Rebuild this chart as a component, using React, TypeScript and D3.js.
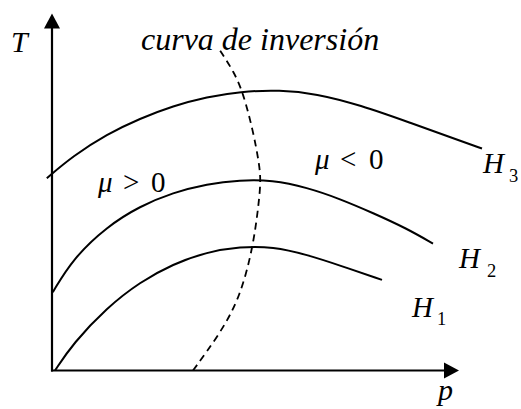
import React from "react";
import * as d3 from "d3";

// Isenthalpic curves (p, T) in arbitrary units
const h1Curve: [number, number][] = [
  [0.75, 0], [5.25, 9], [13.75, 21], [22, 29.5], [30.25, 35.5], [38.75, 39.5],
  [47, 41.3], [55.25, 41.3], [63.75, 38.6], [72, 35], [82.5, 30.2],
];
const h2Curve: [number, number][] = [
  [0.2, 26.1], [5.25, 37.3], [13.75, 48], [22, 54.8], [30.25, 59.3], [38.75, 62.2],
  [47, 63.5], [55, 63.5], [63.75, 61], [72, 57.2], [80.25, 52.5], [88.75, 47.3], [95.25, 42.3],
];
const h3Curve: [number, number][] = [
  [-1.3, 64.1], [5.25, 71.5], [13.75, 78.8], [22, 84], [30.25, 88.2], [38.75, 91.2],
  [47, 93], [57, 93.5], [66, 92.3], [77, 88.5], [89.5, 82.6], [102, 76.6], [107.5, 74],
];
// Inversion curve, from the p axis upwards
const inversionCurve: [number, number][] = [
  [35.25, 0], [42, 12.3], [47, 24.3], [50.25, 41], [51.7, 55.7], [52.2, 63.3],
  [51.8, 69], [50.25, 80], [47.75, 92.7], [45.5, 99.5], [42, 106.7],
];

const curveLabels = ["1", "2", "3"];
const axisLabels = { p: "p", T: "T" };
const inversionLabel = "curva de inversión";

const W = 521;
const H = 409;
const P_AXIS_END = 101.75;
const T_AXIS_END = 119;

const x = d3.scaleLinear().domain([0, 100]).range([52, 452]);
const y = d3.scaleLinear().domain([0, 100]).range([370.5, 70.5]);

const line = d3
  .line<[number, number]>()
  .x((d) => x(d[0]))
  .y((d) => y(d[1]))
  .curve(d3.curveBasis);

const font = { fontFamily: "Liberation Serif" };

export default function App() {
  const x0 = x(0);
  const y0 = y(0);
  const xEnd = x(P_AXIS_END);
  const yEnd = y(T_AXIS_END);
  const head = 15;
  const half = 8;

  // label anchor positions (H_n) and subscript offsets
  const hLabels = [
    { x: 412, y: 317, sx: 437, sy: 325 },
    { x: 459, y: 268, sx: 487, sy: 277 },
    { x: 483, y: 173, sx: 509, sy: 182 },
  ];

  return (
    <svg
      width={W}
      height={H}
      style={{ position: "fixed", left: 0, top: 0, background: "#fff" }}
    >
      <rect width={W} height={H} fill="#fff" />
      {/* axes */}
      <line x1={x0} y1={y0 + 1} x2={x0} y2={yEnd + head - 1} stroke="#000" strokeWidth={2.2} />
      <line x1={x0 - 1} y1={y0} x2={xEnd - head + 1} y2={y0} stroke="#000" strokeWidth={2.2} />
      <polygon
        points={`${x0},${yEnd} ${x0 - half},${yEnd + head} ${x0 + half},${yEnd + head}`}
        fill="#000"
      />
      <polygon
        points={`${xEnd},${y0} ${xEnd - head},${y0 - half} ${xEnd - head},${y0 + half}`}
        fill="#000"
      />

      {/* isenthalps */}
      {[h1Curve, h2Curve, h3Curve].map((c, i) => (
        <path key={i} d={line(c) || ""} fill="none" stroke="#000" strokeWidth={2} />
      ))}

      {/* inversion curve */}
      <path
        d={line(inversionCurve) || ""}
        fill="none"
        stroke="#000"
        strokeWidth={1.8}
        strokeDasharray="7,5"
      />

      {/* labels */}
      <g fill="#000">
        <text x={11} y={52} fontSize={30} fontStyle="italic" style={font}>
          {axisLabels.T}
        </text>
        <text x={438} y={400} fontSize={30} fontStyle="italic" style={font}>
          {axisLabels.p}
        </text>
        <text x={141} y={50} fontSize={32} fontStyle="italic" style={font}>
          {inversionLabel}
        </text>

        <text y={192} fontSize={29} style={font}>
          <tspan x={98} fontStyle="italic">μ</tspan>
          <tspan x={123}>&gt;</tspan>
          <tspan x={151}>0</tspan>
        </text>
        <text y={169} fontSize={29} style={font}>
          <tspan x={315} fontStyle="italic">μ</tspan>
          <tspan x={340}>&lt;</tspan>
          <tspan x={369}>0</tspan>
        </text>

        {hLabels.map((l, i) => (
          <text key={i} y={l.y} fontSize={29} style={font}>
            <tspan x={l.x} fontStyle="italic">H</tspan>
            <tspan x={l.sx} y={l.sy} fontSize={18.5}>{curveLabels[i]}</tspan>
          </text>
        ))}
      </g>
    </svg>
  );
}
